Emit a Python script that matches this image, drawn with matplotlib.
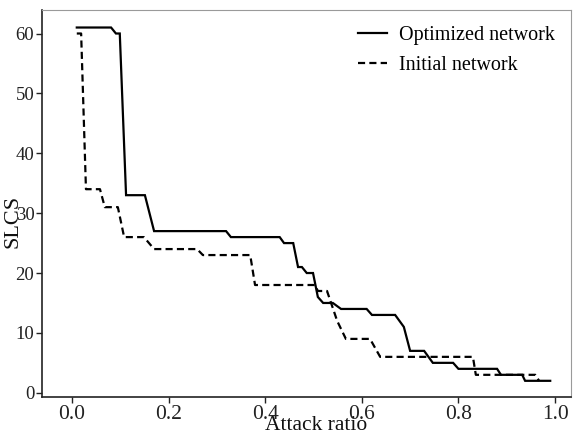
import matplotlib
matplotlib.use("Agg")
import matplotlib.pyplot as plt

# Attack ratio vs. SLCS for the two networks
opt_x = [0.01, 0.081, 0.091, 0.099, 0.112, 0.151, 0.17, 0.319, 0.329, 0.43, 0.439,
         0.458, 0.468, 0.476, 0.486, 0.499, 0.509, 0.52, 0.54, 0.557, 0.61, 0.621,
         0.669, 0.687, 0.7, 0.729, 0.747, 0.789, 0.8, 0.88, 0.888, 0.932, 0.938, 0.99]
opt_y = [61, 61, 60, 60, 33, 33, 27, 27, 26, 26, 25,
         25, 21, 21, 20, 20, 16, 15, 15, 14, 14, 13,
         13, 11, 7, 7, 5, 5, 4, 4, 3, 3, 2, 2]

init_x = [0.01, 0.019, 0.029, 0.058, 0.068, 0.095, 0.108, 0.149, 0.17, 0.259, 0.271,
          0.369, 0.379, 0.503, 0.509, 0.528, 0.549, 0.567, 0.617, 0.638, 0.83, 0.836,
          0.959, 0.967]
init_y = [60, 60, 34, 34, 31, 31, 26, 26, 24, 24, 23,
          23, 18, 18, 17, 17, 12, 9, 9, 6, 6, 3,
          3, 2]

x_ticks = [0.0, 0.2, 0.4, 0.6, 0.8, 1.0]
x_tick_labels = ["0.0", "0.2", "0.4", "0.6", "0.8", "1.0"]
y_ticks = [0, 10, 20, 30, 40, 50, 60]

plt.rcParams["font.family"] = ["Liberation Serif", "DejaVu Serif"]

fig = plt.figure(figsize=(5.73, 4.34), dpi=100)
ax = fig.add_axes([0.0733, 0.0853, 0.9232, 0.8927])

ax.plot(opt_x, opt_y, color="black", lw=1.6, solid_joinstyle="miter",
        label="Optimized network")
ax.plot(init_x, init_y, color="black", lw=1.6, linestyle=(0, (3.2, 1.9)),
        label="Initial network")

ax.set_xlim(-0.062, 1.033)
ax.set_ylim(-0.7, 64)
ax.set_xticks(x_ticks)
ax.set_xticklabels(x_tick_labels)
ax.set_yticks(y_ticks)
ax.tick_params(axis="both", direction="out", length=4, width=1,
               colors="#222222", pad=2)
ax.tick_params(axis="x", labelsize=15.5)
ax.tick_params(axis="y", labelsize=13.5, pad=1.5)

for side in ("left", "bottom"):
    ax.spines[side].set_color("#222222")
    ax.spines[side].set_linewidth(1.2)
for side in ("top", "right"):
    ax.spines[side].set_color("#9a9a9a")
    ax.spines[side].set_linewidth(0.8)

ax.set_xlabel("Attack ratio", fontsize=15.5, color="#111111", va="center")
ax.xaxis.set_label_coords(0.518, -0.073)
ax.set_ylabel("SLCS", fontsize=16, color="#111111", va="center")
ax.yaxis.set_label_coords(-0.054, 0.452)

ax.legend(loc="upper right", frameon=False, fontsize=14.5, handlelength=1.45,
          handletextpad=0.6, labelspacing=0.55, borderaxespad=0.4)

fig.savefig("out.png", dpi=100)
